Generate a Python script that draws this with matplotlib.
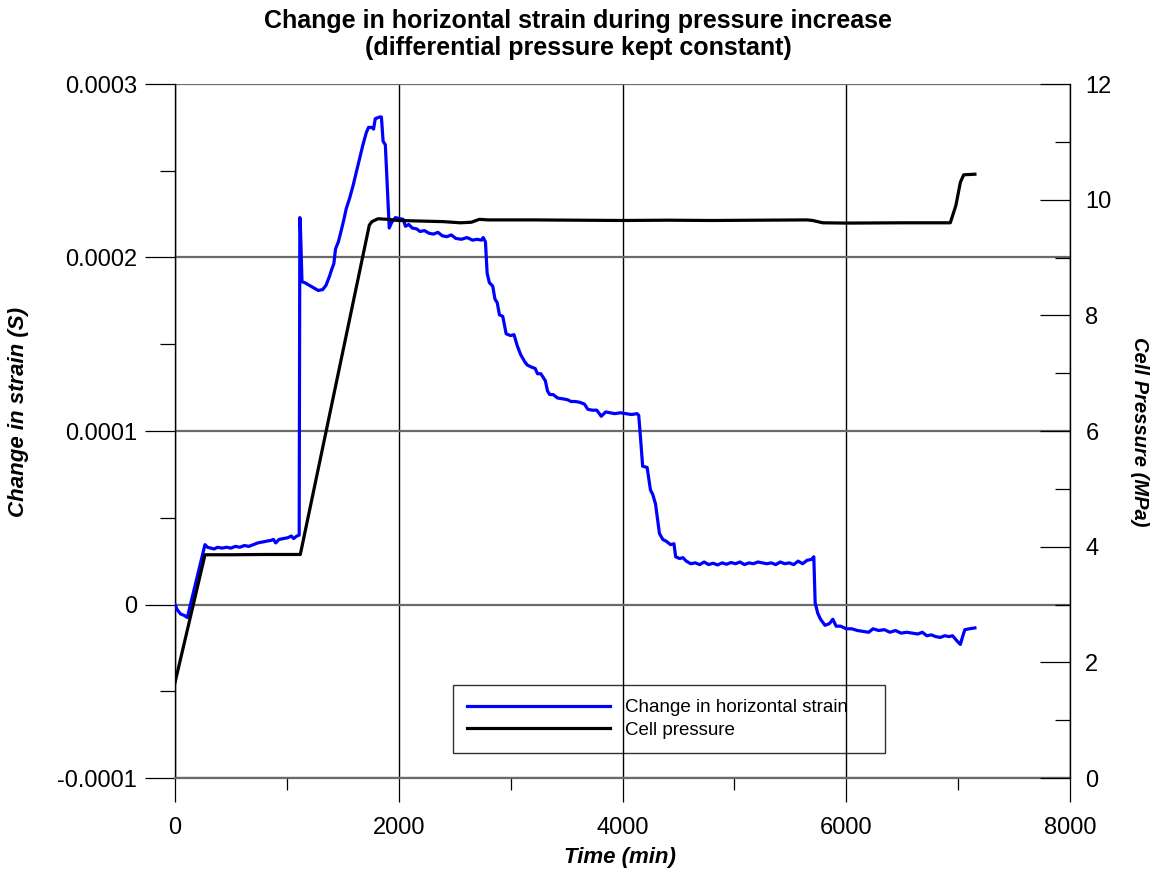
import matplotlib
matplotlib.use("Agg")
import matplotlib.pyplot as plt
from matplotlib.ticker import FixedLocator

plt.rcParams['font.family'] = ['Liberation Sans', 'DejaVu Sans']

# ---------------- data ----------------
strain_time = [0, 20, 50, 80, 110, 268, 290, 320, 350, 380, 420, 460, 500, 540, 580,
               620, 660, 700, 740, 780, 820, 860, 880, 900, 930, 970, 1010, 1040, 1060,
               1090, 1110, 1116, 1120, 1135, 1160, 1200, 1240, 1280, 1320, 1350, 1380,
               1400, 1420, 1435, 1460, 1480, 1510, 1530, 1560, 1590, 1620, 1650, 1680,
               1710, 1730, 1760, 1775, 1790, 1830, 1845, 1860, 1880, 1915, 1935, 1970,
               2000, 2040, 2060, 2090, 2120, 2160, 2190, 2230, 2270, 2310, 2350, 2390,
               2430, 2470, 2510, 2560, 2610, 2660, 2700, 2740, 2755, 2775, 2790, 2810,
               2840, 2860, 2880, 2900, 2930, 2960, 3000, 3030, 3060, 3090, 3130, 3150,
               3180, 3220, 3240, 3270, 3310, 3330, 3350, 3380, 3420, 3470, 3510, 3540,
               3580, 3620, 3660, 3690, 3730, 3770, 3810, 3850, 3890, 3930, 3980, 4030,
               4080, 4130, 4145, 4160, 4180, 4220, 4250, 4270, 4295, 4330, 4360, 4390,
               4430, 4460, 4475, 4510, 4540, 4570, 4610, 4650, 4690, 4730, 4770, 4810,
               4850, 4890, 4930, 4970, 5010, 5050, 5090, 5130, 5170, 5210, 5250, 5290,
               5330, 5370, 5410, 5450, 5490, 5530, 5570, 5610, 5650, 5690, 5710, 5722,
               5745, 5770, 5810, 5850, 5880, 5910, 5950, 6000, 6050, 6100, 6150, 6200,
               6240, 6290, 6340, 6390, 6440, 6490, 6540, 6590, 6640, 6680, 6720, 6760,
               6800, 6840, 6880, 6920, 6950, 6990, 7020, 7040, 7060, 7100, 7150]

strain_value = [0.0, -3.0e-6, -5.5e-6, -6.2e-6, -7.5e-6, 3.45e-5, 3.3e-5, 3.25e-5, 3.2e-5,
                3.3e-5, 3.25e-5, 3.3e-5, 3.25e-5, 3.35e-5, 3.3e-5, 3.4e-5, 3.35e-5,
                3.45e-5, 3.55e-5, 3.6e-5, 3.65e-5, 3.7e-5, 3.75e-5, 3.55e-5, 3.75e-5,
                3.8e-5, 3.85e-5, 3.95e-5, 3.8e-5, 3.95e-5, 4.0e-5, 2.23e-4, 2.2e-4,
                1.86e-4, 1.855e-4, 1.84e-4, 1.825e-4, 1.81e-4, 1.815e-4, 1.84e-4, 1.89e-4,
                1.93e-4, 1.965e-4, 2.05e-4, 2.09e-4, 2.14e-4, 2.22e-4, 2.28e-4, 2.34e-4,
                2.41e-4, 2.49e-4, 2.57e-4, 2.65e-4, 2.72e-4, 2.75e-4, 2.75e-4, 2.74e-4,
                2.8e-4, 2.81e-4, 2.81e-4, 2.67e-4, 2.65e-4, 2.17e-4, 2.2e-4, 2.23e-4,
                2.225e-4, 2.22e-4, 2.18e-4, 2.19e-4, 2.17e-4, 2.165e-4, 2.15e-4, 2.155e-4,
                2.14e-4, 2.135e-4, 2.145e-4, 2.125e-4, 2.12e-4, 2.13e-4, 2.11e-4,
                2.105e-4, 2.115e-4, 2.10e-4, 2.105e-4, 2.10e-4, 2.115e-4, 2.09e-4,
                1.91e-4, 1.855e-4, 1.835e-4, 1.76e-4, 1.74e-4, 1.67e-4, 1.66e-4, 1.56e-4,
                1.55e-4, 1.555e-4, 1.49e-4, 1.44e-4, 1.395e-4, 1.38e-4, 1.37e-4, 1.36e-4,
                1.33e-4, 1.33e-4, 1.29e-4, 1.23e-4, 1.21e-4, 1.21e-4, 1.19e-4, 1.185e-4,
                1.18e-4, 1.17e-4, 1.17e-4, 1.165e-4, 1.155e-4, 1.125e-4, 1.12e-4,
                1.12e-4, 1.085e-4, 1.11e-4, 1.105e-4, 1.10e-4, 1.105e-4, 1.10e-4,
                1.095e-4, 1.10e-4, 1.09e-4, 9.7e-5, 7.97e-5, 7.9e-5, 6.6e-5, 6.35e-5,
                5.8e-5, 4.1e-5, 3.75e-5, 3.65e-5, 3.45e-5, 3.5e-5, 2.75e-5, 2.65e-5,
                2.7e-5, 2.5e-5, 2.35e-5, 2.4e-5, 2.3e-5, 2.45e-5, 2.3e-5, 2.38e-5,
                2.28e-5, 2.4e-5, 2.32e-5, 2.42e-5, 2.35e-5, 2.45e-5, 2.3e-5, 2.4e-5,
                2.35e-5, 2.45e-5, 2.4e-5, 2.35e-5, 2.4e-5, 2.3e-5, 2.45e-5, 2.35e-5,
                2.4e-5, 2.3e-5, 2.5e-5, 2.35e-5, 2.55e-5, 2.6e-5, 2.75e-5, 1.0e-6,
                -5.0e-6, -8.5e-6, -1.2e-5, -1.1e-5, -8.5e-6, -1.25e-5, -1.25e-5,
                -1.4e-5, -1.4e-5, -1.5e-5, -1.55e-5, -1.6e-5, -1.4e-5, -1.5e-5,
                -1.45e-5, -1.6e-5, -1.5e-5, -1.65e-5, -1.6e-5, -1.65e-5, -1.7e-5,
                -1.6e-5, -1.8e-5, -1.75e-5, -1.85e-5, -1.9e-5, -1.8e-5, -1.85e-5,
                -1.8e-5, -2.1e-5, -2.3e-5, -1.85e-5, -1.45e-5, -1.4e-5, -1.35e-5]

pressure_time = [0, 268, 500, 800, 1120, 1737, 1760, 1815, 1900, 2000, 2200, 2400,
                 2550, 2650, 2720, 2800, 3200, 3600, 4000, 4400, 4800, 5200, 5650,
                 5700, 5790, 6000, 6500, 6930, 6980, 7020, 7050, 7150]
pressure_value = [1.65, 3.86, 3.86, 3.865, 3.865, 9.56, 9.62, 9.67, 9.66, 9.64, 9.63,
                  9.62, 9.60, 9.61, 9.66, 9.65, 9.65, 9.645, 9.64, 9.645, 9.64, 9.645,
                  9.65, 9.64, 9.60, 9.595, 9.60, 9.60, 9.9, 10.3, 10.43, 10.44]

strain_ticks = [-0.0001, 0.0, 0.0001, 0.0002, 0.0003]
strain_tick_labels = ['-0.0001', '0', '0.0001', '0.0002', '0.0003']
strain_minor = [-0.00005, 0.00005, 0.00015, 0.00025]
pressure_ticks = [0, 2, 4, 6, 8, 10, 12]
pressure_minor = [1, 3, 5, 7, 9, 11]
time_ticks = [0, 2000, 4000, 6000, 8000]
time_minor = [1000, 3000, 5000, 7000]

title_text = ('Change in horizontal strain during pressure increase\n'
              '(differential pressure kept constant)')
legend_labels = ['Change in horizontal strain', 'Cell pressure']

# ---------------- figure ----------------
W, H = 1157, 871
fig = plt.figure(figsize=(W / 100, H / 100), dpi=100)
ax = fig.add_axes([175 / W, (H - 778) / H, 895 / W, 694 / H])
ax2 = ax.twinx()

l1, = ax.plot(strain_time, strain_value, color='#0000ff', lw=2.3, zorder=3)
l2, = ax2.plot(pressure_time, pressure_value, color='black', lw=2.3, zorder=3)

ax.set_xlim(0, 8000)
ax.set_ylim(-0.0001, 0.0003)
ax2.set_ylim(0, 12)

ax.set_xticks(time_ticks)
ax.set_xticklabels([str(t) for t in time_ticks])
ax.xaxis.set_minor_locator(FixedLocator(time_minor))
ax.set_yticks(strain_ticks)
ax.set_yticklabels(strain_tick_labels)
ax.yaxis.set_minor_locator(FixedLocator(strain_minor))
ax2.set_yticks(pressure_ticks)
ax2.set_yticklabels([str(p) for p in pressure_ticks])
ax2.yaxis.set_minor_locator(FixedLocator(pressure_minor))

fs = 17
ax.tick_params(axis='y', which='major', direction='out', length=21.6, width=0.9,
               pad=5.5, labelsize=fs, colors='black')
ax.tick_params(axis='y', which='minor', direction='out', length=10.8, width=0.9)
ax.tick_params(axis='x', which='major', direction='out', length=17.3, width=0.9,
               pad=10.5, labelsize=fs)
ax.tick_params(axis='x', which='minor', direction='out', length=8.6, width=0.9)
ax2.tick_params(axis='y', which='major', direction='in', length=21.6, width=0.9,
                pad=11, labelsize=fs)
ax2.tick_params(axis='y', which='minor', direction='in', length=10.8, width=0.9)

ax.grid(axis='x', which='major', color='black', lw=1.0)
ax.grid(axis='y', which='major', color='#6a6a6a', lw=1.6)

for s in ['top', 'right']:
    ax.spines[s].set_visible(False)
ax.spines['bottom'].set_color('#6a6a6a')
ax.spines['bottom'].set_linewidth(1.6)
ax.spines['left'].set_linewidth(1.0)
for s in ['top', 'bottom', 'left']:
    ax2.spines[s].set_visible(False)
ax2.spines['right'].set_linewidth(1.0)

# titles / labels
fig.text(0.5, 1 - 9 / H, title_text, ha='center', va='top', fontsize=18,
         fontweight='bold', linespacing=1.15)
fig.text(620 / W, 1 - 857 / H, 'Time (min)', ha='center', va='center',
         fontsize=16, fontweight='bold', fontstyle='italic')
fig.text(19 / W, 1 - 412 / H, 'Change in strain (S)', ha='center', va='center',
         rotation=90, fontsize=16, fontstyle='italic', fontweight='bold')
fig.text(1140 / W, 1 - 432 / H, 'Cell Pressure (MPa)', ha='center', va='center',
         rotation=-90, fontsize=14.5, fontstyle='italic', fontweight='bold')

leg = ax2.legend([l1, l2], legend_labels, loc='lower left',
                 bbox_to_anchor=(0.3106, 0.036, 0.4827, 0.0937), mode='expand',
                 borderaxespad=0, fontsize=13.5, handlelength=7.6, handletextpad=0.85,
                 labelspacing=0.3, borderpad=0.75, fancybox=False, frameon=True)
leg.get_frame().set_edgecolor('black')
leg.get_frame().set_facecolor('none')
leg.get_frame().set_linewidth(1.0)

fig.savefig('out.png', dpi=100)
